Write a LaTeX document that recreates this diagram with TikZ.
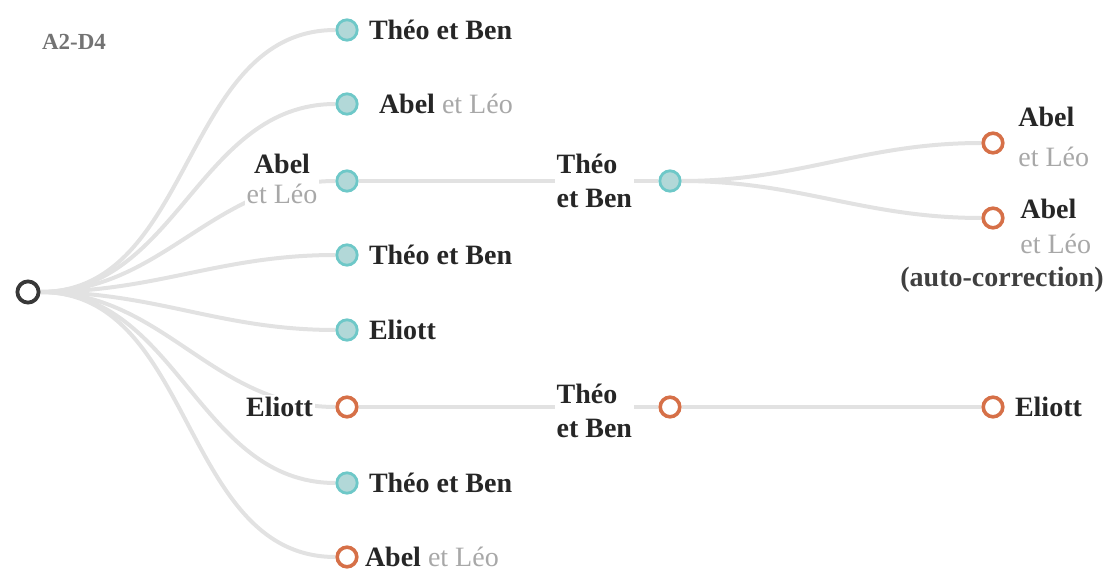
\documentclass[tikz,border=0pt]{standalone}
\usepackage{fontspec}
\setmainfont{Liberation Serif}
\usetikzlibrary{positioning,backgrounds}

\definecolor{okring}{RGB}{110,200,200}
\definecolor{okfill}{RGB}{178,216,216}
\definecolor{errring}{RGB}{214,112,72}
\definecolor{linkgray}{RGB}{226,226,226}
\definecolor{softtext}{RGB}{168,168,168}

\tikzset{
  link/.style={draw=linkgray, line width=2pt},
  rootdot/.style={circle, draw=black!78, fill=white, line width=1.9pt, minimum size=10.6pt, inner sep=0pt},
  okdot/.style={circle, draw=okring, fill=okfill, line width=1.4pt, minimum size=10.2pt, inner sep=0pt},
  errdot/.style={circle, draw=errring, fill=white, line width=1.8pt, minimum size=9.8pt, inner sep=0pt},
  who/.style={font=\fontsize{14}{18}\selectfont\bfseries, text=black!85, fill=white, inner sep=1pt},
  note/.style={font=\fontsize{14}{18}\selectfont\bfseries, text=black!75, inner sep=1pt}
}
\newcommand{\soft}[1]{{\mdseries\color{softtext}#1}}

\begin{document}
\begin{tikzpicture}[x=0.5pt, y=-0.5pt]
\useasboundingbox (0,0) rectangle (1108,571);

% Title
\node[font=\fontsize{11.5}{14}\selectfont\bfseries, text=black!55] (title) at (74,42) {A2-D4};

% Root
\node[rootdot] (root) at (28,292) {};

% First level
\node[okdot]  (a1) at (347,30)  {};
\node[okdot]  (a2) at (347,104) {};
\node[okdot]  (a3) at (347,181) {};
\node[okdot]  (a4) at (347,255) {};
\node[okdot]  (a5) at (347,330) {};
\node[errdot] (a6) at (347,407) {};
\node[okdot]  (a7) at (347,483) {};
\node[errdot] (a8) at (347,557) {};

% Second level
\node[okdot]  (b1) at (670,181) {};
\node[errdot] (b2) at (670,407) {};

% Third level
\node[errdot] (c1) at (993,143) {};
\node[errdot] (c2) at (993,218) {};
\node[errdot] (c3) at (993,407) {};

% Links
\begin{scope}[on background layer]
\foreach \n in {a1,a2,a3,a4,a5,a6,a7,a8}
  \draw[link] (root) to[out=0,in=180] (\n);
\draw[link] (a3) -- (b1);
\draw[link] (a6) -- (b2);
\draw[link] (b1) to[out=0,in=180] (c1);
\draw[link] (b1) to[out=0,in=180] (c2);
\draw[link] (b2) -- (c3);
\end{scope}

% Labels
\node[who, right=4pt of a1] (a1l) {Théo et Ben};
\node[who, right=9pt of a2] (a2l) {Abel \soft{et Léo}};
\node[who, align=center, font=\fontsize{14}{15}\selectfont\bfseries] (a3l) at (282,179) {Abel\\\soft{et Léo}};
\node[who, right=4pt of a4] (a4l) {Théo et Ben};
\node[who, right=4pt of a5] (a5l) {Eliott};
\node[who, left=10pt of a6] (a6l) {Eliott};
\node[who, right=4pt of a7] (a7l) {Théo et Ben};
\node[who, right=2pt of a8] (a8l) {Abel \soft{et Léo}};

\node[who, align=left, font=\fontsize{14}{17}\selectfont\bfseries, left=12pt of b1] (b1l) {Théo\\et Ben};
\node[who, align=left, font=\fontsize{14}{17}\selectfont\bfseries, left=12pt of b2, yshift=-2pt] (b2l) {Théo\\et Ben};

\node[note] (c2n) at (1002,280) {(auto-correction)};
\node[who, align=left, font=\fontsize{14}{20}\selectfont\bfseries, anchor=west] (c1l) at (1016,137) {Abel\\\soft{et Léo}};
\node[who, align=left, font=\fontsize{14}{17.5}\selectfont\bfseries, anchor=west, fill=none] (c2l) at (1018,226) {Abel\\\soft{et Léo}};
\node[who, right=4pt of c3] (c3l) {Eliott};
\end{tikzpicture}
\end{document}
